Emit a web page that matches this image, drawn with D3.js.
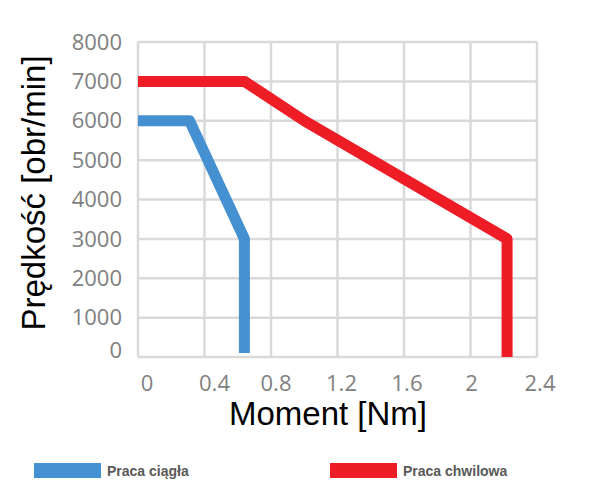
<!DOCTYPE html>
<html>
<head>
<meta charset="utf-8">
<script src="https://cdn.jsdelivr.net/npm/d3@7"></script>
<style>
  body { margin: 0; background: #fff; }
</style>
</head>
<body>
<svg id="chart" width="608" height="494"></svg>
<script>
const xTicks = [0, 0.4, 0.8, 1.2, 1.6, 2, 2.4];
const yTicks = [0, 1000, 2000, 3000, 4000, 5000, 6000, 7000, 8000];

const seriesNames = ["Praca ciągła", "Praca chwilowa"];
const ciaglaMoment = [0, 0.31, 0.64, 0.64];
const ciaglaSpeed = [6000, 6000, 3000, 100];
const chwilowaMoment = [0, 0.64, 1.0, 2.22, 2.22];
const chwilowaSpeed = [7000, 7000, 6000, 3000, 0];
const colors = ["#4590d0", "#ee1c25"];

const svg = d3.select("#chart");

const x = d3.scaleLinear().domain([0, 2.4]).range([138, 537]);
const y = d3.scaleLinear().domain([0, 8000]).range([357, 42]);

// grid
svg.append("g")
    .selectAll("line")
    .data(xTicks)
    .enter()
    .append("line")
    .attr("x1", d => x(d)).attr("x2", d => x(d))
    .attr("y1", y(8000)).attr("y2", y(0))
    .attr("stroke", "#d9d9d9")
    .attr("stroke-width", 2.5);

svg.append("g")
    .selectAll("line")
    .data(yTicks)
    .enter()
    .append("line")
    .attr("x1", x(0)).attr("x2", x(2.4))
    .attr("y1", d => y(d)).attr("y2", d => y(d))
    .attr("stroke", "#d9d9d9")
    .attr("stroke-width", 2.5);

// tick labels
svg.append("g")
    .selectAll("text")
    .data(yTicks)
    .enter()
    .append("text")
    .attr("x", 122)
    .attr("y", d => d === 0 ? y(d) - 7 : y(d))
    .attr("dy", "0.35em")
    .attr("text-anchor", "end")
    .attr("font-family", "Open Sans, sans-serif")
    .attr("font-size", 22)
    .attr("fill", "#808080")
    .text(d => d);

svg.append("g")
    .selectAll("text")
    .data(xTicks)
    .enter()
    .append("text")
    .attr("x", (d, i) => x(d) + [9, 10, 5, 4, 3, 1, 3][i])
    .attr("y", 391)
    .attr("text-anchor", "middle")
    .attr("font-family", "Open Sans, sans-serif")
    .attr("font-size", 22)
    .attr("fill", "#808080")
    .text(d => d);

// axis titles
svg.append("text")
    .attr("x", 328)
    .attr("y", 425)
    .attr("text-anchor", "middle")
    .attr("font-family", "Liberation Sans, Arial, sans-serif")
    .attr("font-size", 33)
    .attr("fill", "#000")
    .text("Moment [Nm]");

svg.append("text")
    .attr("transform", "translate(45,193) rotate(-90)")
    .attr("text-anchor", "middle")
    .attr("font-family", "Liberation Sans, Arial, sans-serif")
    .attr("font-size", 33)
    .attr("fill", "#000")
    .text("Prędkość [obr/min]");

// lines
const line = d3.line().x(d => x(d[0])).y(d => y(d[1]));
const series = [
    d3.zip(ciaglaMoment, ciaglaSpeed),
    d3.zip(chwilowaMoment, chwilowaSpeed)
];

svg.append("g")
    .selectAll("path")
    .data(series)
    .enter()
    .append("path")
    .attr("d", line)
    .attr("fill", "none")
    .attr("stroke", (d, i) => colors[i])
    .attr("stroke-width", 11)
    .attr("stroke-linejoin", "round");

// legend
const legendX = [34, 330];
const legend = svg.append("g")
    .selectAll("g")
    .data(seriesNames)
    .enter()
    .append("g")
    .attr("transform", (d, i) => `translate(${legendX[i]},463)`);

legend.append("rect")
    .attr("width", 67)
    .attr("height", 15)
    .attr("fill", (d, i) => colors[i]);

legend.append("text")
    .attr("x", 73)
    .attr("y", 13)
    .attr("font-family", "Liberation Sans, Arial, sans-serif")
    .attr("font-size", 14)
    .attr("font-weight", "bold")
    .attr("fill", "#595959")
    .text(d => d);
</script>
</body>
</html>
